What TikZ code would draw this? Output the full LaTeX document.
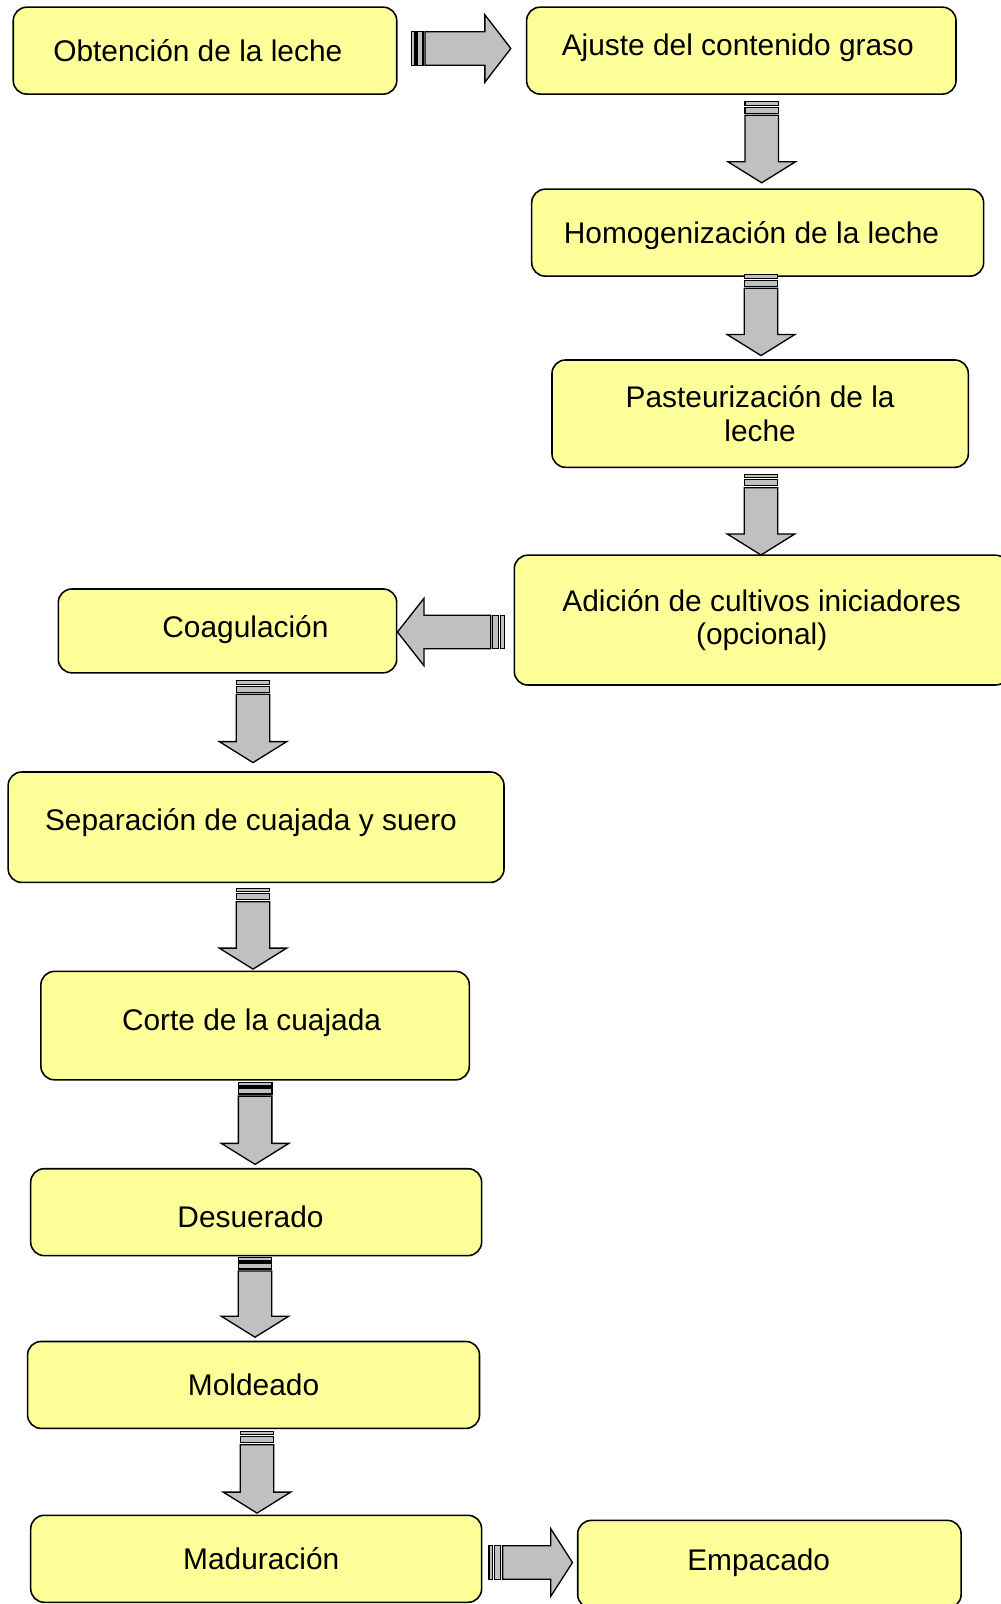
\documentclass[tikz,border=0pt]{standalone}
\usepackage{fontspec}
\setmainfont{Liberation Sans}
\usetikzlibrary{calc}
\definecolor{amarillo}{HTML}{FFFF99}
\definecolor{grisflecha}{HTML}{C0C0C0}
\tikzset{
  caja/.style={draw,line width=0.9pt,fill=amarillo,rounded corners=0.27cm,
    font=\fontsize{17}{19.2}\selectfont,inner sep=0pt},
  linea/.style={text height=20pt,text depth=#1},
  linea/.default=7.8pt,
  mueve/.style={execute at begin node={\hspace*{#1}}},
  gris/.style={draw,line width=0.75pt,fill=grisflecha,line join=miter},
}
% flecha de bloque: cola, angulo, largo, largo de la punta
\newcommand{\flecha}[4]{%
  \begin{scope}[shift={#1},rotate=#2]
    \filldraw[gris](0,-\kmed) rectangle (0.07,\kmed);
    \filldraw[gris](0.11,-\kmed) rectangle (0.23,\kmed);
    \filldraw[gris](0.27,-\kmed)--({#3-#4},-\kmed)--({#3-#4},-\kala)--(#3,0)
      --({#3-#4},\kala)--({#3-#4},\kmed)--(0.27,\kmed)--cycle;
  \end{scope}}
\begin{document}
\begin{tikzpicture}
\pgfmathsetmacro{\kmed}{0.335}
\pgfmathsetmacro{\kala}{0.675}
\useasboundingbox (0,0) rectangle (20,-32.08);
% cajas
\node[caja,linea,mueve=-8.2pt,minimum width=7.67cm,minimum height=1.738cm](obt) at (4.10,-1.013){Obtención de la leche};
\node[caja,linea=14.2pt,mueve=-4pt,minimum width=8.588cm,minimum height=1.738cm](ajuste) at (14.826,-1.013){Ajuste del contenido graso};
\node[caja,linea,mueve=-7pt,minimum width=9.038cm,minimum height=1.738cm](homog) at (15.153,-4.653){Homogenización de la leche};
\node[caja,align=center,minimum width=8.326cm,minimum height=2.146cm](pasteur) at (15.203,-8.273){Pasteurización de la\\leche};
\node[caja,align=center,minimum width=9.894cm,minimum height=2.596cm](adicion) at (15.233,-12.402){Adición de cultivos iniciadores\\(opcional)};
\node[caja,linea=12.4pt,mueve=20.4pt,minimum width=6.768cm,minimum height=1.676cm](coag) at (4.55,-12.618){Coagulación};
\node[caja,linea=15.8pt,mueve=-5.8pt,minimum width=9.916cm,minimum height=2.208cm](sep) at (5.122,-16.544){Separación de cuajada y suero};
\node[caja,linea=14.6pt,mueve=-4pt,minimum width=8.568cm,minimum height=2.168cm](corte) at (5.102,-20.512){Corte de la cuajada};
\node[caja,linea=2.1pt,mueve=-6.4pt,minimum width=9.018cm,minimum height=1.738cm](desuer) at (5.123,-24.243){Desuerado};
\node[caja,linea,minimum width=9.038cm,minimum height=1.738cm](molde) at (5.071,-27.699){Moldeado};
\node[caja,linea,mueve=5.8pt,minimum width=9.018cm,minimum height=1.74cm](madur) at (5.123,-31.176){Maduración};
\node[caja,linea=12.4pt,mueve=-12.2pt,minimum width=7.668cm,minimum height=1.752cm](empac) at (15.388,-31.284){Empacado};
% flechas
\flecha{($(obt.east)+(0.28,0.043)$)}{0}{1.986}{0.52}
\flecha{($(ajuste.south)+(0.408,-0.138)$)}{-90}{1.62}{0.42}
\flecha{($(homog.south)+(0.067,0.042)$)}{-90}{1.616}{0.42}
\flecha{($(pasteur.south)+(0.017,-0.122)$)}{-90}{1.616}{0.42}
\flecha{($(adicion.west)+(-0.186,-0.238)$)}{180}{2.134}{0.53}
\flecha{($(coag.south)+(0.51,-0.144)$)}{-90}{1.636}{0.42}
\flecha{($(sep.south)+(-0.062,-0.102)$)}{-90}{1.616}{0.42}
\flecha{($(corte.south)+(0,-0.04)$)}{-90}{1.636}{0.42}
\flecha{($(desuer.south)+(-0.023,-0.022)$)}{-90}{1.594}{0.42}
\flecha{($(molde.south)+(0.069,-0.042)$)}{-90}{1.636}{0.42}
\flecha{($(madur.east)+(0.134,-0.074)$)}{0}{1.668}{0.434}
\end{tikzpicture}
\end{document}
